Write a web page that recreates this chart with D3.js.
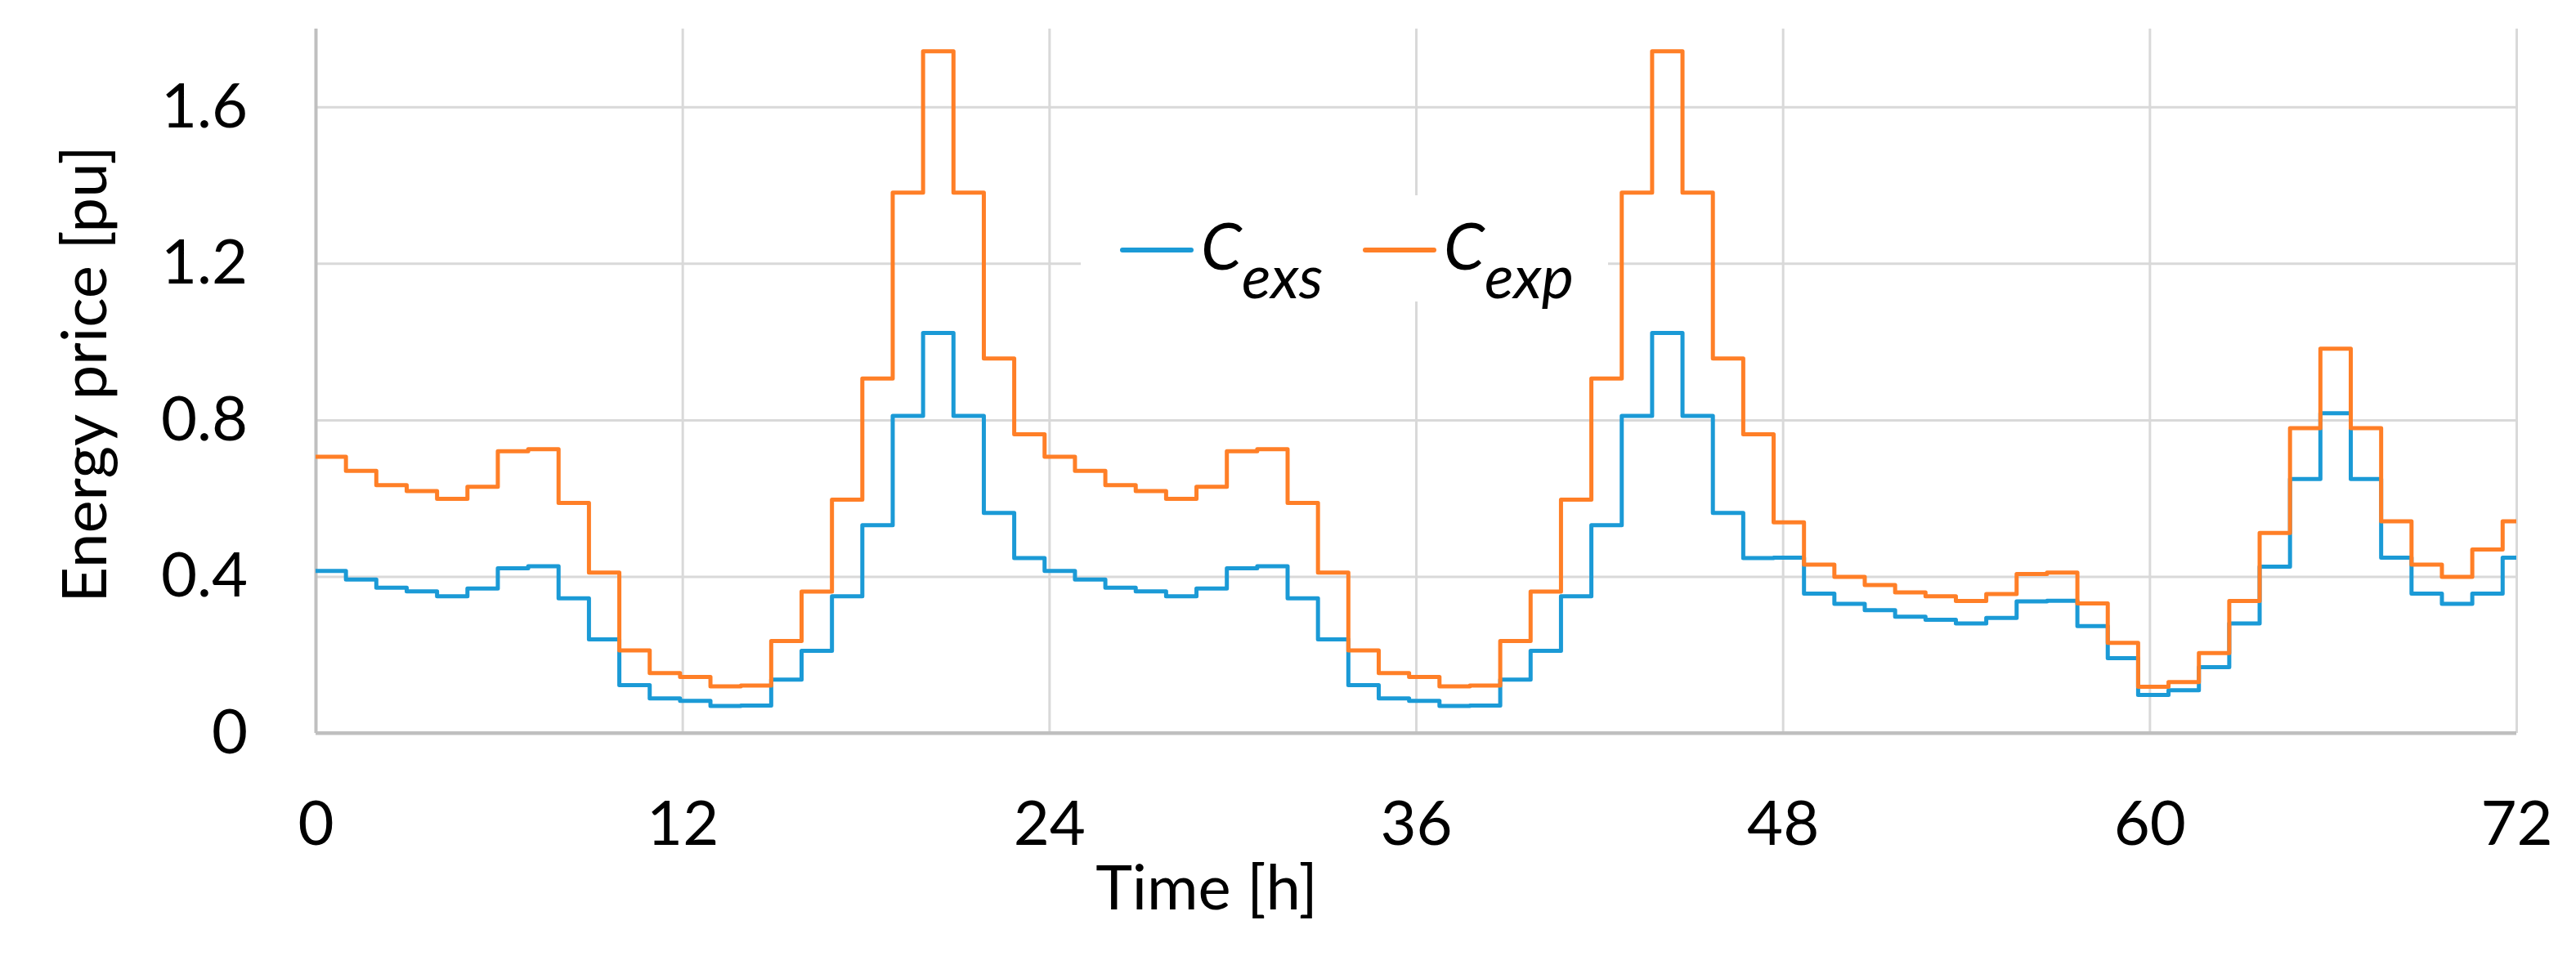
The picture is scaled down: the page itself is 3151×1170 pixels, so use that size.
<!DOCTYPE html>
<html>
<head>
<meta charset="utf-8">
<script src="https://cdn.jsdelivr.net/npm/d3@7"></script>
<style>
  html, body { margin: 0; padding: 0; background: #fff; }
  svg { display: block; font-family: Lato, "Open Sans", sans-serif; }
</style>
</head>
<body>
<div id="chart"></div>
<script>
// hourly energy prices, hours 0..72
const hours = d3.range(73)
const cExs = [
  0.414, 0.392, 0.371, 0.362, 0.349, 0.369, 0.421, 0.426, 0.344, 0.239, 0.122, 0.088,
  0.082, 0.069, 0.070, 0.136, 0.210, 0.349, 0.531, 0.810, 1.022, 0.810, 0.562, 0.447,
  0.414, 0.392, 0.371, 0.362, 0.349, 0.369, 0.421, 0.426, 0.344, 0.239, 0.122, 0.088,
  0.082, 0.069, 0.070, 0.136, 0.210, 0.349, 0.531, 0.810, 1.022, 0.810, 0.562, 0.447,
  0.448, 0.356, 0.330, 0.314, 0.297, 0.289, 0.280, 0.294, 0.336, 0.338, 0.273, 0.191,
  0.097, 0.109, 0.168, 0.280, 0.425, 0.649, 0.817, 0.649, 0.448, 0.356, 0.330, 0.356,
  0.448
]
const cExp = [
  0.706, 0.670, 0.633, 0.618, 0.598, 0.629, 0.720, 0.725, 0.588, 0.410, 0.211, 0.153,
  0.143, 0.119, 0.121, 0.235, 0.361, 0.596, 0.906, 1.381, 1.742, 1.381, 0.957, 0.763,
  0.706, 0.670, 0.633, 0.618, 0.598, 0.629, 0.720, 0.725, 0.588, 0.410, 0.211, 0.153,
  0.143, 0.119, 0.121, 0.235, 0.361, 0.596, 0.906, 1.381, 1.742, 1.381, 0.957, 0.763,
  0.538, 0.430, 0.399, 0.378, 0.359, 0.349, 0.337, 0.355, 0.406, 0.410, 0.331, 0.230,
  0.118, 0.130, 0.204, 0.337, 0.511, 0.779, 0.982, 0.779, 0.541, 0.430, 0.399, 0.469,
  0.541
]
const xTicks = [0, 12, 24, 36, 48, 60, 72]
const yTicks = [0, 0.4, 0.8, 1.2, 1.6]
const seriesNames = ['exs', 'exp']
const seriesColors = ['#1b9ad6', '#ff7f27']

const W = 3151, H = 1170
const margin = { top: 35, right: 73, bottom: 273, left: 386 }
const pw = W - margin.left - margin.right
const ph = H - margin.top - margin.bottom
const fontSize = 76

const svg = d3.select('#chart').append('svg')
  .attr('width', W).attr('height', H)

const x = d3.scaleLinear().domain([0, 72]).range([0, pw])
// the source steps are a little narrower than one hour: 73 steps fill ~72.45 h
const xStep = d3.scaleLinear().domain([0, 72.45]).range([0, pw])
const y = d3.scaleLinear().domain([0, 1.8]).range([ph, 0])

const g = svg.append('g').attr('transform', `translate(${margin.left},${margin.top})`)

g.append('clipPath').attr('id', 'plotClip')
  .append('rect').attr('width', pw).attr('height', ph)

// gridlines
const gridY = g.append('g').call(d3.axisLeft(y).tickValues(yTicks).tickSize(-pw).tickFormat(''))
gridY.select('.domain').remove()
gridY.selectAll('line').attr('stroke', '#d9d9d9').attr('stroke-width', 3)
  .filter(d => d === 0).attr('stroke', '#bfbfbf').attr('stroke-width', 4)

const gridX = g.append('g').attr('transform', `translate(0,${ph})`)
  .call(d3.axisBottom(x).tickValues(xTicks).tickSize(-ph).tickFormat(''))
gridX.select('.domain').remove()
gridX.selectAll('line').attr('stroke', '#d9d9d9').attr('stroke-width', 3)
  .filter(d => d === 0).attr('stroke', '#bfbfbf').attr('stroke-width', 4)

// bottom axis line drawn again on top of vertical grid
g.append('line').attr('x1', 0).attr('x2', pw).attr('y1', y(0)).attr('y2', y(0))
  .attr('stroke', '#bfbfbf').attr('stroke-width', 4)

// tick labels
const xAxis = g.append('g').attr('transform', `translate(0,${ph})`)
  .call(d3.axisBottom(x).tickValues(xTicks).tickSize(0).tickFormat(d3.format('d')))
xAxis.select('.domain').remove()
xAxis.selectAll('text').attr('y', 137).attr('dy', null)
  .attr('font-size', fontSize).attr('fill', '#000').attr('font-family', 'Lato, sans-serif')

const yAxis = g.append('g')
  .call(d3.axisLeft(y).tickValues(yTicks).tickSize(0).tickPadding(83)
    .tickFormat(d => d === 0 ? '0' : d3.format('.1f')(d)))
yAxis.select('.domain').remove()
yAxis.selectAll('text').attr('font-size', fontSize).attr('fill', '#000')
  .attr('font-family', 'Lato, sans-serif')

// series
const line = d3.line()
  .x(d => xStep(d[0]))
  .y(d => y(d[1]))
  .curve(d3.curveStepAfter)

const series = [cExs, cExp]
series.forEach((vals, k) => {
  const pts = hours.map(h => [h, vals[h]])
  pts.push([xStep.domain()[1], vals[vals.length - 1]])
  g.append('path')
    .datum(pts)
    .attr('clip-path', 'url(#plotClip)')
    .attr('fill', 'none')
    .attr('stroke', seriesColors[k])
    .attr('stroke-width', 5)
    .attr('stroke-linejoin', 'round')
    .attr('d', line)
})

// axis titles
svg.append('text')
  .attr('transform', 'translate(130,458) rotate(-90)')
  .attr('text-anchor', 'middle')
  .attr('font-size', fontSize)
  .attr('fill', '#000')
  .text('Energy price [pu]')

svg.append('text')
  .attr('x', 1476).attr('y', 1113)
  .attr('text-anchor', 'middle')
  .attr('font-size', fontSize)
  .attr('fill', '#000')
  .text('Time [h]')

// legend
const legend = svg.append('g').attr('transform', 'translate(1322,239)')
legend.append('rect').attr('width', 645).attr('height', 130).attr('fill', '#fff')

const legendX = [51, 348]
seriesNames.forEach((name, k) => {
  const item = legend.append('g').attr('transform', `translate(${legendX[k]},0)`)
  item.append('line')
    .attr('x1', 0).attr('x2', 84).attr('y1', 67).attr('y2', 67)
    .attr('stroke', seriesColors[k]).attr('stroke-width', 6).attr('stroke-linecap', 'round')
  const t = item.append('text').attr('x', 96).attr('y', 91)
    .attr('font-style', 'italic').attr('fill', '#000')
  t.append('tspan').attr('font-size', 80).text('C')
  t.append('tspan').attr('font-size', 74).attr('dy', 35).text(name)
})
</script>
</body>
</html>
